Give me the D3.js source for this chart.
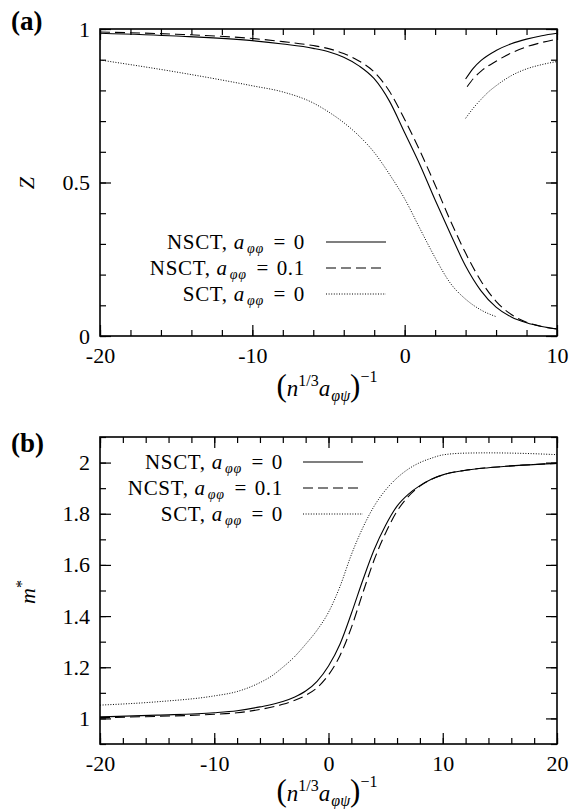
<!DOCTYPE html>
<html>
<head>
<meta charset="utf-8">
<script src="https://cdn.jsdelivr.net/npm/d3@7"></script>
<style>
  body { margin: 0; background: #fff; }
  svg { font-family: "Liberation Serif", "DejaVu Serif", serif; }
</style>
</head>
<body>
<div class="vis-holder"></div>
<script>
const width = 582;
const height = 809;

// panel (a): Z vs (n^1/3 a)^-1
const aXTicks = [-20, -10, 0, 10];
const aYTicks = [0, 0.5, 1];
const aZNsct0 = [[-20, 0.986], [-15, 0.977], [-10, 0.962], [-8, 0.951], [-6, 0.937], [-5, 0.926], [-4, 0.908],
    [-3, 0.88], [-2, 0.838], [-1, 0.765], [0, 0.662], [1, 0.558], [2, 0.443], [3, 0.333], [4, 0.228],
    [5, 0.148], [6, 0.094], [7, 0.062], [8, 0.043], [9, 0.031], [10, 0.023]];
const aZNsct01 = [[-20, 0.99], [-15, 0.983], [-10, 0.969], [-8, 0.959], [-6, 0.946], [-5, 0.936], [-4, 0.92],
    [-3, 0.896], [-2, 0.86], [-1, 0.797], [0, 0.705], [1, 0.603], [2, 0.492], [3, 0.376], [4, 0.27],
    [5, 0.18], [6, 0.113], [7, 0.07], [8, 0.045], [9, 0.031], [10, 0.023]];
const aZSct0 = [[-20, 0.899], [-15, 0.86], [-10, 0.815], [-8, 0.795], [-6, 0.759], [-5, 0.73], [-4, 0.695],
    [-3, 0.652], [-2, 0.598], [-1, 0.527], [0, 0.447], [1, 0.35], [2, 0.255], [3, 0.172], [4, 0.12],
    [5, 0.085], [6, 0.063]];
const aZNsct0Upper = [[4.0, 0.837], [4.5, 0.872], [5, 0.897], [6, 0.93], [7, 0.952], [8, 0.967], [9, 0.978], [10, 0.986]];
const aZNsct01Upper = [[4.1, 0.812], [4.5, 0.838], [5, 0.862], [6, 0.895], [7, 0.922], [8, 0.942], [9, 0.956], [10, 0.967]];
const aZSct0Upper = [[4.0, 0.709], [4.5, 0.742], [5, 0.77], [5.5, 0.795], [6, 0.815], [7, 0.848], [8, 0.87], [9, 0.884], [10, 0.894]];

// panel (b): m* vs (n^1/3 a)^-1
const bXTicks = [-20, -10, 0, 10, 20];
const bYTicks = [1, 1.2, 1.4, 1.6, 1.8, 2];
const bMNsct0 = [[-20, 1.006], [-15, 1.013], [-10, 1.022], [-8, 1.03], [-6, 1.045], [-4, 1.066], [-3, 1.083],
    [-2, 1.107], [-1, 1.145], [0, 1.205], [1, 1.29], [2, 1.41], [3, 1.54], [4, 1.66], [5, 1.755], [6, 1.83],
    [7, 1.877], [8, 1.91], [9, 1.935], [10, 1.952], [12, 1.97], [14, 1.98], [17, 1.99], [20, 1.997]];
const bMNcst01 = [[-20, 1.003], [-15, 1.008], [-10, 1.016], [-8, 1.022], [-6, 1.035], [-4, 1.055], [-3, 1.07],
    [-2, 1.09], [-1, 1.12], [0, 1.17], [1, 1.245], [2, 1.355], [3, 1.49], [4, 1.62], [5, 1.725], [6, 1.81],
    [7, 1.868], [8, 1.908], [9, 1.934], [10, 1.952], [12, 1.97], [14, 1.98], [17, 1.99], [20, 1.997]];
const bMSct0 = [[-20, 1.052], [-15, 1.065], [-10, 1.088], [-8, 1.105], [-6, 1.14], [-5, 1.165], [-4, 1.2],
    [-3, 1.24], [-2, 1.29], [-1, 1.345], [0, 1.415], [1, 1.515], [2, 1.64], [3, 1.745], [4, 1.83], [5, 1.893],
    [6, 1.94], [7, 1.975], [8, 2.0], [9, 2.017], [10, 2.03], [12, 2.037], [14, 2.038], [17, 2.036], [20, 2.031]];

const svg = d3.select(".vis-holder").append("svg")
    .attr("width", width)
    .attr("height", height);

const left = 100, right = 557;
const eq = "\u2004=\u2004";

function panel(opt) {
    const x = d3.scaleLinear().domain(opt.xDomain).range([left, right]);
    const y = d3.scaleLinear().domain(opt.yDomain).range([opt.bottom, opt.top]);
    const g = svg.append("g");

    const minorX = d3.range(opt.xDomain[0], opt.xDomain[1] + 0.001, 2);
    const minorY = d3.range(opt.yDomain[0], opt.yDomain[1] + 0.001, opt.yMinor);

    function addAxis(axis, tx, ty, labels) {
        const a = g.append("g").attr("transform", `translate(${tx},${ty})`).call(axis);
        a.select(".domain").remove();
        a.selectAll("line").attr("stroke", "#000").attr("stroke-width", 1.2);
        a.selectAll("text").attr("font-size", 22).attr("fill", "#000").attr("font-family", "Liberation Serif");
        if (!labels) a.selectAll("text").remove();
        return a;
    }
    // minor ticks, all four sides
    addAxis(d3.axisBottom(x).tickValues(minorX).tickSize(-6).tickFormat(""), 0, opt.bottom, false);
    addAxis(d3.axisTop(x).tickValues(minorX).tickSize(-6).tickFormat(""), 0, opt.top, false);
    addAxis(d3.axisLeft(y).tickValues(minorY).tickSize(-6).tickFormat(""), left, 0, false);
    addAxis(d3.axisRight(y).tickValues(minorY).tickSize(-6).tickFormat(""), right, 0, false);
    // major ticks with labels
    addAxis(d3.axisBottom(x).tickValues(opt.xTicks).tickSize(-11).tickPadding(11)
        .tickFormat(d => d), 0, opt.bottom, true);
    addAxis(d3.axisTop(x).tickValues(opt.xTicks).tickSize(-11).tickFormat(""), 0, opt.top, false);
    addAxis(d3.axisLeft(y).tickValues(opt.yTicks).tickSize(-11).tickPadding(10)
        .tickFormat(d => d), left, 0, true);
    addAxis(d3.axisRight(y).tickValues(opt.yTicks).tickSize(-11).tickFormat(""), right, 0, false);

    g.append("rect")
        .attr("x", left).attr("y", opt.top)
        .attr("width", right - left).attr("height", opt.bottom - opt.top)
        .attr("fill", "none").attr("stroke", "#000").attr("stroke-width", 1.6);

    const line = d3.line().x(d => x(d[0])).y(d => y(d[1])).curve(d3.curveMonotoneX);
    opt.series.forEach(s => {
        g.append("path").datum(s.data)
            .attr("d", line)
            .attr("fill", "none")
            .attr("stroke", "#000")
            .attr("stroke-width", s.dash === dashDot ? 1 : 1.1)
            .attr("stroke-dasharray", s.dash);
    });

    // legend
    opt.legend.forEach((s, i) => {
        const ly = opt.legendY + i * 26;
        const t = g.append("text").attr("x", opt.legendTextX).attr("y", ly + 7)
            .attr("text-anchor", "end").attr("font-size", 21).attr("fill", "#000")
            .attr("letter-spacing", 0.7);
        t.append("tspan").text(s.name + ", ");
        t.append("tspan").attr("font-style", "italic").text("a");
        t.append("tspan").attr("font-style", "italic").attr("font-size", 14).attr("dx", 2).attr("dy", 4).text("φφ");
        t.append("tspan").attr("dx", 2).attr("dy", -4).text(eq + s.value);
        g.append("line")
            .attr("x1", opt.legendLineX).attr("x2", opt.legendLineX + 60)
            .attr("y1", ly).attr("y2", ly)
            .attr("stroke", "#000").attr("stroke-width", 1.1)
            .attr("stroke-dasharray", s.dash);
    });

    // x label
    const xl = g.append("text").attr("x", 327).attr("y", opt.xLabelY)
        .attr("text-anchor", "middle").attr("font-size", 23).attr("fill", "#000");
    xl.append("tspan").attr("font-size", 31).text("(");
    xl.append("tspan").attr("font-style", "italic").text("n");
    xl.append("tspan").attr("font-size", 16).attr("dy", -10).text("1/3");
    xl.append("tspan").attr("font-style", "italic").attr("dy", 10).text("a");
    xl.append("tspan").attr("font-style", "italic").attr("font-size", 16).attr("dx", 1).attr("dy", 5).text("φψ");
    xl.append("tspan").attr("font-size", 31).attr("dy", -5).text(")");
    xl.append("tspan").attr("font-size", 16).attr("dy", -14).text("−1");

    // panel tag
    g.append("text").attr("x", 11).attr("y", opt.tagY)
        .attr("font-size", 27).attr("font-weight", "bold").attr("fill", "#000").text(opt.tag);
    return { x, y, g };
}

const dashFull = null, dashDash = "10,5", dashDot = "1,1.6";

const pa = panel({
    xDomain: [-20, 10], yDomain: [0, 1], top: 29, bottom: 336,
    xTicks: aXTicks, yTicks: aYTicks, yMinor: 0.1,
    series: [
        { data: aZNsct0, dash: dashFull }, { data: aZNsct01, dash: dashDash }, { data: aZSct0, dash: dashDot },
        { data: aZNsct0Upper, dash: dashFull }, { data: aZNsct01Upper, dash: dashDash }, { data: aZSct0Upper, dash: dashDot }
    ],
    legend: [
        { name: "NSCT", value: "0", dash: dashFull },
        { name: "NSCT", value: "0.1", dash: dashDash },
        { name: "SCT", value: "0", dash: dashDot }
    ],
    legendY: 242, legendTextX: 305, legendLineX: 326,
    xLabelY: 396, tag: "(a)", tagY: 30
});
pa.g.append("text").attr("transform", "translate(34,183) rotate(-90)")
    .attr("text-anchor", "middle").attr("font-size", 22).attr("font-style", "italic").text("Z");

const pb = panel({
    xDomain: [-20, 20], yDomain: [0.9, 2.1], top: 437, bottom: 744,
    xTicks: bXTicks, yTicks: bYTicks, yMinor: 0.1,
    series: [
        { data: bMNsct0, dash: dashFull }, { data: bMNcst01, dash: dashDash }, { data: bMSct0, dash: dashDot }
    ],
    legend: [
        { name: "NSCT", value: "0", dash: dashFull },
        { name: "NCST", value: "0.1", dash: dashDash },
        { name: "SCT", value: "0", dash: dashDot }
    ],
    legendY: 462, legendTextX: 283, legendLineX: 303,
    xLabelY: 801, tag: "(b)", tagY: 452
});
const ml = pb.g.append("text").attr("transform", "translate(35,592) rotate(-90)")
    .attr("text-anchor", "middle").attr("font-size", 22);
ml.append("tspan").attr("font-style", "italic").text("m");
ml.append("tspan").attr("font-size", 16).attr("dy", -8).text("*");
</script>
</body>
</html>
